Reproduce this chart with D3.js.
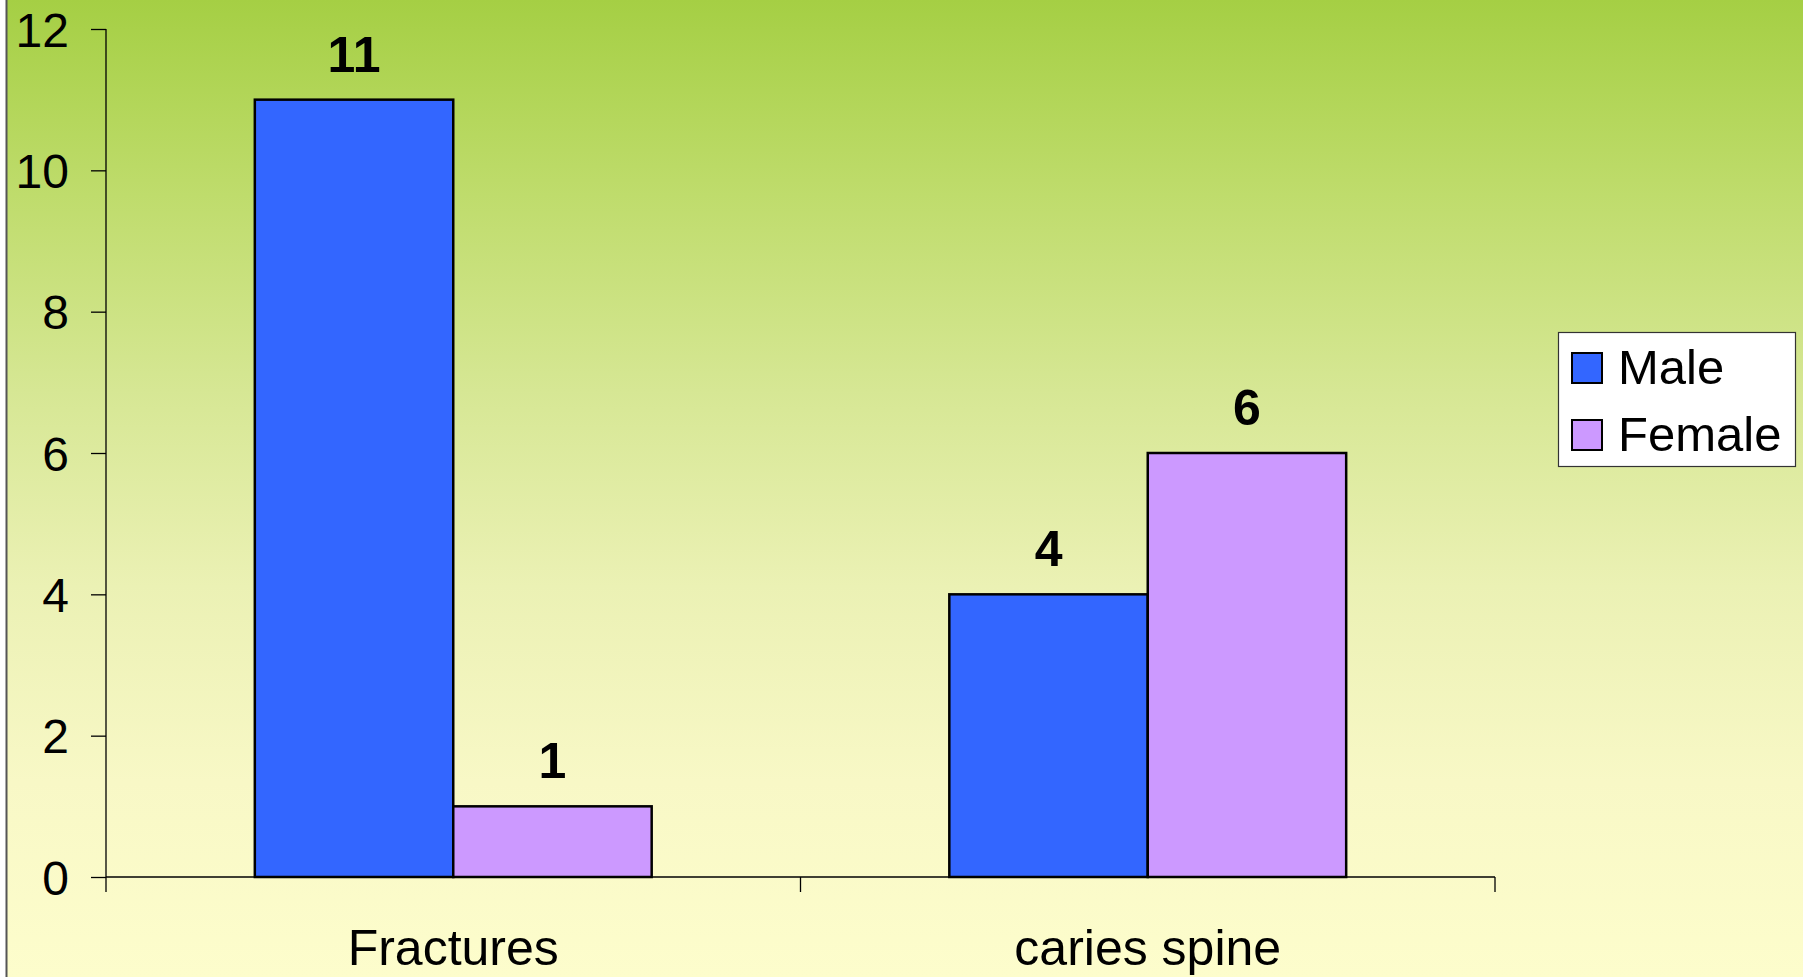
<!DOCTYPE html>
<html>
<head>
<meta charset="utf-8">
<script src="https://cdn.jsdelivr.net/npm/d3@7"></script>
<style>
  html, body { margin: 0; padding: 0; background: #ffffff; }
  svg { display: block; font-family: "Liberation Sans", Arial, sans-serif; }
</style>
</head>
<body>
<svg id="chart" width="1803" height="977"></svg>
<script>
// Cases by diagnosis and sex
const categories = ["Fractures", "caries spine"];
const seriesNames = ["Male", "Female"];
const maleValues = [11, 4];
const femaleValues = [1, 6];
const yTicks = [0, 2, 4, 6, 8, 10, 12];
const seriesColors = ["#3366ff", "#cc99ff"];

const seriesValues = [maleValues, femaleValues];
const rows = categories.map((c, i) => ({
  category: c,
  values: seriesNames.map((s, j) => ({ series: s, value: seriesValues[j][i], color: seriesColors[j] }))
}));

const svg = d3.select("#chart");
const W = 1803, H = 977;
const plot = { left: 106, right: 1495, top: 29, bottom: 877 };

// Background panel with vertical green-to-cream gradient
const defs = svg.append("defs");
const grad = defs.append("linearGradient")
  .attr("id", "bg").attr("x1", 0).attr("y1", 0).attr("x2", 0).attr("y2", 1);
[[0, "#a5cf44"], [0.2, "#bfdc6c"], [0.4, "#d6e794"], [0.6, "#ebf1b4"], [0.8, "#f8f8c6"], [1, "#fdfdcc"]]
  .forEach(([o, c]) => grad.append("stop").attr("offset", o).attr("stop-color", c));

svg.append("rect").attr("x", 6).attr("y", 0).attr("width", W - 6).attr("height", H)
  .attr("fill", "url(#bg)");
svg.append("line").attr("x1", 6.5).attr("x2", 6.5).attr("y1", 0).attr("y2", H)
  .attr("stroke", "#555").attr("stroke-width", 2);

// Scales
const x = d3.scaleBand().domain(categories).range([plot.left, plot.right]).padding(0);
const xSub = d3.scaleBand().domain(seriesNames).range([0, x.bandwidth()])
  .paddingInner(0).paddingOuter(0.75);
const y = d3.scaleLinear().domain([0, 12]).range([plot.bottom, plot.top]);

// Y axis
const yAxis = svg.append("g")
  .attr("transform", `translate(${plot.left},0)`)
  .call(d3.axisLeft(y).tickValues(yTicks).tickSize(15).tickPadding(22).tickSizeOuter(0));
yAxis.select(".domain").remove();
yAxis.selectAll(".tick line").attr("stroke", "#000").attr("stroke-width", 1.3);
yAxis.selectAll(".tick text").attr("font-size", 48).attr("fill", "#000")
  .attr("font-family", "'Liberation Sans', Arial, sans-serif").attr("dy", "0.36em");
yAxis.append("line").attr("x1", 0).attr("x2", 0).attr("y1", y(12)).attr("y2", y(0) + 15)
  .attr("stroke", "#000").attr("stroke-width", 1.3);

// Bars
const groups = svg.append("g").selectAll("g").data(rows).join("g")
  .attr("transform", d => `translate(${x(d.category)},0)`);
groups.selectAll("rect").data(d => d.values).join("rect")
  .attr("x", d => xSub(d.series))
  .attr("y", d => y(d.value))
  .attr("width", xSub.bandwidth())
  .attr("height", d => y(0) - y(d.value))
  .attr("fill", d => d.color)
  .attr("stroke", "#000").attr("stroke-width", 2.5);

// Value labels
groups.selectAll("text").data(d => d.values).join("text")
  .attr("x", d => xSub(d.series) + xSub.bandwidth() / 2)
  .attr("y", d => y(d.value) - 28)
  .attr("text-anchor", "middle")
  .attr("font-size", 50).attr("font-weight", "bold").attr("fill", "#000")
  .text(d => d.value);

// X axis: baseline with ticks at category boundaries
const xg = svg.append("g");
xg.append("line").attr("x1", plot.left).attr("x2", plot.right)
  .attr("y1", y(0)).attr("y2", y(0)).attr("stroke", "#000").attr("stroke-width", 1.3);
const boundaries = categories.map(c => x(c)).concat([x(categories[categories.length - 1]) + x.bandwidth()]);
xg.selectAll("line.tick").data(boundaries.slice(1)).join("line").attr("class", "tick")
  .attr("x1", d => d).attr("x2", d => d)
  .attr("y1", y(0)).attr("y2", y(0) + 15)
  .attr("stroke", "#000").attr("stroke-width", 1.3);
xg.selectAll("text").data(categories).join("text")
  .attr("x", d => x(d) + x.bandwidth() / 2)
  .attr("y", 965)
  .attr("text-anchor", "middle")
  .attr("font-size", 50).attr("fill", "#000")
  .text(d => d);

// Legend
const legend = svg.append("g").attr("transform", "translate(1558,332)");
legend.append("rect").attr("x", 0.5).attr("y", 0.5).attr("width", 237).attr("height", 134)
  .attr("fill", "#fff").attr("stroke", "#333").attr("stroke-width", 1.2);
const items = legend.selectAll("g").data(seriesNames).join("g")
  .attr("transform", (d, i) => `translate(14,${21 + i * 67})`);
items.append("rect").attr("width", 30).attr("height", 30)
  .attr("fill", (d, i) => seriesColors[i]).attr("stroke", "#000").attr("stroke-width", 2);
items.append("text").attr("x", 46).attr("y", 31)
  .attr("font-size", 49).attr("fill", "#000").text(d => d);
</script>
</body>
</html>
